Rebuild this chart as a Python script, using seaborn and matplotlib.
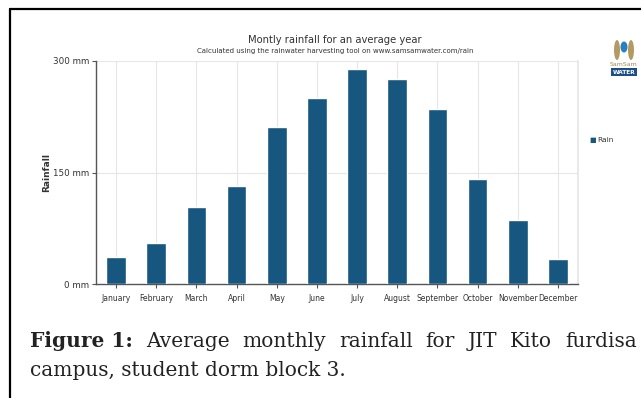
import matplotlib
matplotlib.use("Agg")
import matplotlib.pyplot as plt
import seaborn as sns
import pandas as pd
from matplotlib.lines import Line2D
from matplotlib.patches import Ellipse

months = ["January", "February", "March", "April", "May", "June", "July",
          "August", "September", "October", "November", "December"]
rain = [36.5, 55.5, 103, 132, 211.5, 250, 289.5, 276, 235.5, 141.5, 86.5, 33.5]
yticks = [0, 150, 300]
ytick_labels = ["0 mm", "150 mm", "300 mm"]
caption_line1 = ["Average", "monthly", "rainfall", "for", "JIT", "Kito", "furdisa"]
caption_line2 = "campus, student dorm block 3."

sns.set_theme(style="white")
plt.rcParams['font.family'] = ['DejaVu Sans']

df = pd.DataFrame({"month": months, "rain": rain})

fig = plt.figure(figsize=(6.41, 3.98), dpi=100)
fig.patch.set_facecolor("white")

ax = fig.add_axes([96/641, 1-284/398, 482/641, 223/398])
ax.set_facecolor("white")
sns.barplot(data=df, x="month", y="rain", color="#16567f", saturation=1,
            width=0.49, ax=ax, zorder=3, legend=False)
ax.set_xlim(-0.5, 11.5)
ax.set_ylim(0, 300)
ax.set_yticks(yticks)
ax.set_yticklabels(ytick_labels, fontsize=6.3, color="#333333")
ax.set_xticks(range(len(months)))
ax.set_xticklabels(months, fontsize=5.5, color="#333333")
ax.set_xlabel("")
ax.set_ylabel("Rainfall", fontsize=6.5, fontweight="bold", color="#333333", labelpad=1)
ax.grid(True, color="#e6e6e6", linewidth=0.8, zorder=0)
ax.set_axisbelow(True)
ax.tick_params(axis="both", which="both", length=3, width=0.8, color="#555555",
               direction="out", pad=2, bottom=True, left=True)
ax.tick_params(axis="x", pad=4)
ax.spines["top"].set_visible(False)
ax.spines["right"].set_color("#e6e6e6")
ax.spines["left"].set_color("#555555")
ax.spines["bottom"].set_color("#555555")
ax.spines["left"].set_linewidth(1.0)
ax.spines["bottom"].set_linewidth(1.0)

# titles
fig.text(335/641, 1-40/398, "Montly rainfall for an average year", ha="center",
         va="center", fontsize=7.2, color="#333333")
fig.text(335/641, 1-51/398,
         "Calculated using the rainwater harvesting tool on www.samsamwater.com/rain",
         ha="center", va="center", fontsize=5, color="#333333")

# legend
fig.text(589/641, 1-140/398, "■", ha="left", va="center", fontsize=5,
         color="#16567f")
fig.text(597/641, 1-140/398, "Rain", ha="left", va="center", fontsize=5.3,
         color="#333333")

# logo (simplified)
for dx in (-7, 7):
    fig.add_artist(Ellipse(((624 + dx)/641, 1-50/398), 6/641, 20/398,
                           transform=fig.transFigure, facecolor="#b39a62",
                           edgecolor="none"))
fig.add_artist(Ellipse((624/641, 1-47/398), 7/641, 11/398,
                       transform=fig.transFigure, facecolor="#2a7fc0",
                       edgecolor="none"))
fig.text(624/641, 1-64/398, "SamSam", ha="center", va="center", fontsize=4.5,
         color="#a08a5a")
fig.text(624/641, 1-72/398, "WATER", ha="center", va="center", fontsize=4.2,
         color="white", fontweight="bold",
         bbox=dict(boxstyle="square,pad=0.2", facecolor="#1c4f86", edgecolor="none"))

# frame
fig.add_artist(Line2D([9.5/641, 1.0], [1-8.5/398, 1-8.5/398], transform=fig.transFigure,
                      color="black", linewidth=1.6))
fig.add_artist(Line2D([9.5/641, 9.5/641], [0, 1-8.5/398], transform=fig.transFigure,
                      color="black", linewidth=1.6))

# caption (justified first line)
cap_font = ['DejaVu Serif']
fs = 14.5
renderer = fig.canvas.get_renderer()
words = [("Figure 1:", "bold")] + [(w, "normal") for w in caption_line1]
texts = []
total_w = 0
for w, wt in words:
    t = fig.text(0, 1-347/398, w, ha="left", va="baseline", fontsize=fs,
                 fontweight=wt, family=cap_font, color="#222222")
    bb = t.get_window_extent(renderer=renderer)
    texts.append((t, bb.width))
    total_w += bb.width
x0, x1 = 30, 637
gap = (x1 - x0 - total_w) / (len(words) - 1)
x = x0
for t, wpx in texts:
    t.set_x(x/641)
    x += wpx + gap
fig.text(30/641, 1-376/398, caption_line2, ha="left", va="baseline",
         fontsize=fs, family=cap_font, color="#222222")

fig.savefig("out.png", dpi=100)
